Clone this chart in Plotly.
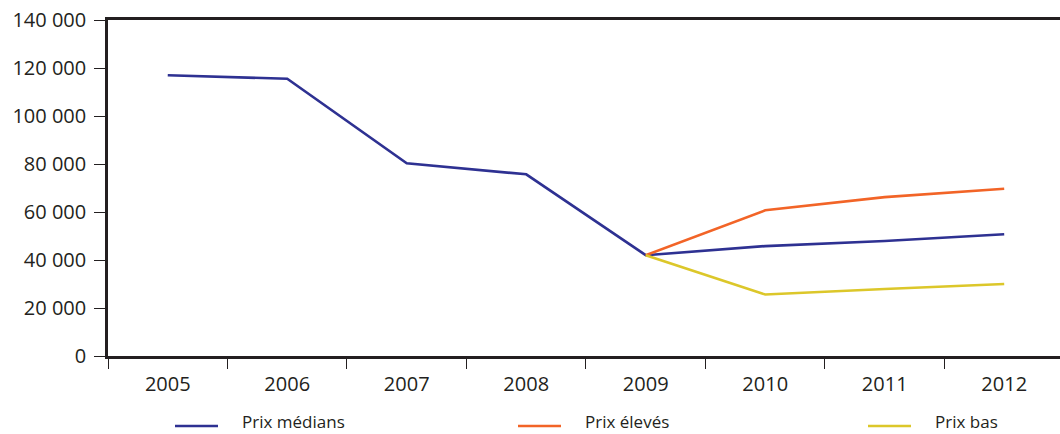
import plotly.graph_objects as go

years = ["2005", "2006", "2007", "2008", "2009", "2010", "2011", "2012"]
prix_medians = [117000, 115500, 80300, 75700, 42000, 45800, 47900, 50700]
prix_eleves = [None, None, None, None, 42000, 60700, 66200, 69700]
prix_bas = [None, None, None, None, 42000, 25600, 27900, 30000]

series = [
    ("Prix médians", prix_medians, "#2E3192"),
    ("Prix élevés", prix_eleves, "#F26427"),
    ("Prix bas", prix_bas, "#DCC72A"),
]

ink = "#231F20"
font_family = "'Open Sans', Lato, sans-serif"

fig = go.Figure()
for name, vals, color in series:
    fig.add_trace(go.Scatter(
        x=years, y=vals, name=name, mode="lines",
        line=dict(color=color, width=2.6),
        connectgaps=False, showlegend=False,
    ))

# Legend drawn as short line samples with labels beneath the axis
legend_x = [175, 518, 868]
W, H = 1060, 434
plot_h = 336
line_y = -(426 - 356) / plot_h
text_bottom = -(433.5 - 356) / plot_h
shapes = []
annotations = []
for (name, _, color), lx in zip(series, legend_x):
    shapes.append(dict(type="line", xref="paper", yref="paper",
                       x0=(lx - 108) / (W - 108), x1=(lx + 43 - 108) / (W - 108),
                       y0=line_y, y1=line_y,
                       line=dict(color=color, width=2.6)))
    annotations.append(dict(xref="paper", yref="paper",
                            x=(lx + 66 - 108) / (W - 108), y=text_bottom,
                            text=name, showarrow=False, xanchor="left", yanchor="bottom",
                            borderpad=0,
                            font=dict(family=font_family, size=17, color=ink)))

fig.update_layout(
    width=W, height=H,
    margin=dict(l=108, r=0, t=20, b=78),
    paper_bgcolor="white", plot_bgcolor="white",
    separators=", ",
    font=dict(family=font_family, size=20, color=ink),
    shapes=shapes, annotations=annotations,
    showlegend=False,
)
fig.update_xaxes(
    type="category", range=[-0.5, 7.467],
    showline=True, linecolor=ink, linewidth=2.6, mirror=True,
    ticks="outside", tickson="boundaries", ticklen=10, tickwidth=1.2, tickcolor=ink,
    ticklabelstandoff=8,
    showgrid=False, zeroline=False,
    tickfont=dict(size=20),
)
fig.update_yaxes(
    range=[0, 140000], dtick=20000, tickformat=",d",
    showline=True, linecolor=ink, linewidth=2.6,
    ticks="outside", ticklen=11, tickwidth=1.2, tickcolor=ink,
    ticklabelstandoff=4,
    showgrid=False, zeroline=False,
    tickfont=dict(size=20),
)

fig.write_html("out.html")
